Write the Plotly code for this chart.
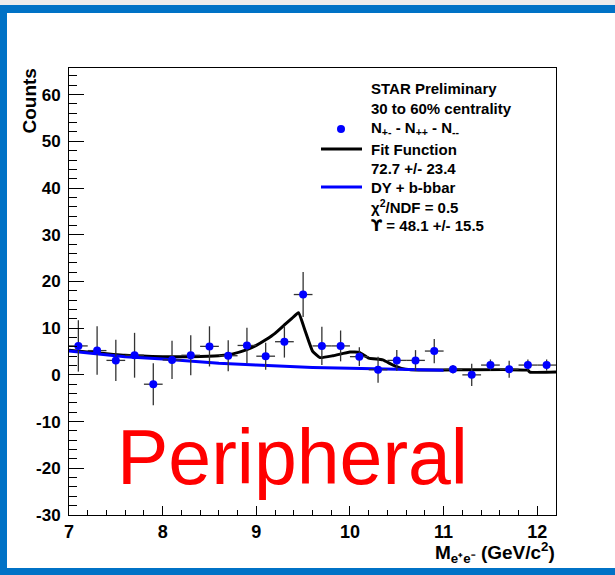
import plotly.graph_objects as go

# ---------------- data ----------------
mass = [7.1, 7.3, 7.5, 7.7, 7.9, 8.1, 8.3, 8.5, 8.7, 8.9, 9.1, 9.3, 9.5,
        9.7, 9.9, 10.1, 10.3, 10.5, 10.7, 10.9, 11.1, 11.3, 11.5, 11.7, 11.9, 12.1]
counts = [6.2, 5.2, 3.1, 4.2, -2.0, 3.2, 4.2, 6.1, 4.1, 6.3, 4.0, 7.1, 17.2,
          6.2, 6.2, 3.9, 1.1, 3.1, 3.1, 5.1, 1.2, 0.0, 2.1, 1.2, 2.1, 2.1]
count_err = [5.5, 5.2, 4.4, 4.8, 4.5, 4.1, 4.3, 4.3, 3.3, 3.8, 2.9, 3.4, 4.8,
             4.1, 3.3, 2.0, 2.8, 2.2, 2.2, 2.6, 0.9, 2.4, 1.2, 1.8, 1.2, 1.2]
bin_half_width = 0.1

fit_mass = [7.0, 7.25, 7.6, 8.0, 8.3, 8.6, 8.75, 8.9, 9.0, 9.1, 9.2, 9.3, 9.38, 9.45,
            9.52, 9.6, 9.68, 9.82, 10.0, 10.1, 10.2, 10.35, 10.45, 10.55, 10.65,
            11.0, 11.9, 11.92, 12.2]
fit_vals = [5.3, 4.8, 4.2, 3.9, 3.9, 4.1, 4.5, 5.4, 6.3, 7.5, 8.9, 10.7, 12.1, 13.3,
            9.5, 5.1, 3.7, 4.1, 4.9, 4.8, 3.6, 3.2, 2.2, 1.4, 1.1,
            1.05, 1.0, 0.6, 0.6]

bkg_mass = [7.0, 7.3, 7.6, 8.0, 8.3, 8.6, 9.0, 9.3, 9.6, 10.0, 10.4, 11.0]
bkg_vals = [5.1, 4.5, 3.9, 3.4, 2.9, 2.5, 2.1, 1.8, 1.6, 1.4, 1.2, 1.0]

legend_lines = ["<b>STAR Preliminary</b>",
                "<b>30 to 60% centrality</b>",
                "<b>N<sub>+-</sub> - N<sub>++</sub> - N<sub>--</sub></b>",
                "<b>Fit Function</b>",
                "<b>72.7 +/- 23.4</b>",
                "<b>DY + b-bbar</b>",
                "<b>χ<sup>2</sup>/NDF = 0.5</b>",
                "<b><span style='font-family:DejaVu Sans'>ϒ</span> = 48.1 +/- 15.5</b>"]

x_range = [7, 12.2]
y_range = [-30, 65.7]
x_ticks = [7, 8, 9, 10, 11, 12]
y_ticks = [-30, -20, -10, 0, 10, 20, 30, 40, 50, 60]

# ---------------- layout geometry ----------------
Wfig, Hfig = 615, 575
L, R, T, B = 69, 556, 68, 515
PW, PH = R - L, B - T


def px(xp):
    return (xp - L) / PW


def py(yp):
    return (B - yp) / PH


FONT = "Liberation Sans, Arial, sans-serif"

fig = go.Figure()

fig.add_trace(go.Scatter(x=fit_mass, y=fit_vals, mode="lines",
                         line=dict(color="black", width=3, shape="spline", smoothing=0.4),
                         showlegend=False, hoverinfo="skip"))
fig.add_trace(go.Scatter(x=bkg_mass, y=bkg_vals, mode="lines",
                         line=dict(color="#0000ff", width=3), showlegend=False,
                         hoverinfo="skip"))
fig.add_trace(go.Scatter(
    x=mass, y=counts, mode="markers",
    marker=dict(color="#0000ff", size=8),
    error_y=dict(type="data", array=count_err, color="#333333", thickness=1.3, width=0),
    error_x=dict(type="constant", value=bin_half_width, color="#333333", thickness=1.3, width=0),
    showlegend=False))

shapes = []
# slide frame
shapes.append(dict(type="rect", xref="paper", yref="paper", x0=px(0), x1=px(615),
                   y0=py(0), y1=py(5), fillcolor="#ececec", line=dict(width=0), layer="below"))
shapes.append(dict(type="rect", xref="paper", yref="paper", x0=px(0), x1=px(615),
                   y0=py(5), y1=py(13), fillcolor="#0072c6", line=dict(width=0)))
shapes.append(dict(type="rect", xref="paper", yref="paper", x0=px(0), x1=px(7),
                   y0=py(5), y1=py(575), fillcolor="#0072c6", line=dict(width=0)))
shapes.append(dict(type="rect", xref="paper", yref="paper", x0=px(0), x1=px(615),
                   y0=py(568), y1=py(575), fillcolor="#0072c6", line=dict(width=0)))

# legend samples
shapes.append(dict(type="circle", xref="paper", yref="paper",
                   x0=px(337), x1=px(345), y0=py(125), y1=py(133),
                   fillcolor="#0000ff", line=dict(width=0)))
shapes.append(dict(type="line", xref="paper", yref="paper",
                   x0=px(321), x1=px(362), y0=py(149), y1=py(149),
                   line=dict(color="black", width=3)))
shapes.append(dict(type="line", xref="paper", yref="paper",
                   x0=px(321), x1=px(362), y0=py(187), y1=py(187),
                   line=dict(color="#0000ff", width=3)))

annotations = []
leg_y = [88, 108, 128, 149, 168, 187, 206, 226]
for txt, yy in zip(legend_lines, leg_y):
    annotations.append(dict(text=txt, xref="paper", yref="paper", x=px(369), y=py(yy),
                            xanchor="left", yanchor="middle", showarrow=False,
                            font=dict(family=FONT, size=15, color="black")))

annotations.append(dict(text="Peripheral", xref="paper", yref="paper", x=px(115), y=py(457),
                        xanchor="left", yanchor="middle", showarrow=False,
                        font=dict(family=FONT, size=77, color="#ff0000")))

annotations.append(dict(text="<b>Counts</b>", xref="paper", yref="paper", x=px(29), y=py(67),
                        xanchor="center", yanchor="top", textangle=-90, showarrow=False,
                        font=dict(family=FONT, size=19, color="black")))

annotations.append(dict(text="<b>M<sub>e⁺e⁻</sub> (GeV/c<sup>2</sup>)</b>", xref="paper", yref="paper",
                        x=px(557), y=py(552), xanchor="right", yanchor="middle", showarrow=False,
                        font=dict(family=FONT, size=19, color="black")))

fig.update_layout(
    width=Wfig, height=Hfig, autosize=False,
    margin=dict(l=L, r=Wfig - R, t=T, b=Hfig - B, pad=0),
    paper_bgcolor="white", plot_bgcolor="white",
    shapes=shapes, annotations=annotations, showlegend=False,
    xaxis=dict(range=x_range, tickvals=x_ticks, ticktext=[str(v) for v in x_ticks],
               ticks="inside", ticklen=9, tickwidth=1, tickcolor="black",
               minor=dict(dtick=0.2, ticks="inside", ticklen=5, tickcolor="black", tickwidth=1),
               showline=True, linecolor="black", linewidth=1, mirror=True,
               showgrid=False, zeroline=False,
               tickfont=dict(family=FONT, size=18, color="black", weight="bold")),
    yaxis=dict(range=y_range, tickvals=y_ticks, ticktext=[str(v) for v in y_ticks],
               ticks="inside", ticklen=15, tickwidth=1, tickcolor="black",
               minor=dict(dtick=2, ticks="inside", ticklen=8, tickcolor="black", tickwidth=1),
               showline=True, linecolor="black", linewidth=1, mirror=True,
               showgrid=False, zeroline=False, ticklabelstandoff=4,
               tickfont=dict(family=FONT, size=17, color="black", weight="bold")),
)

fig.write_html("out.html")
